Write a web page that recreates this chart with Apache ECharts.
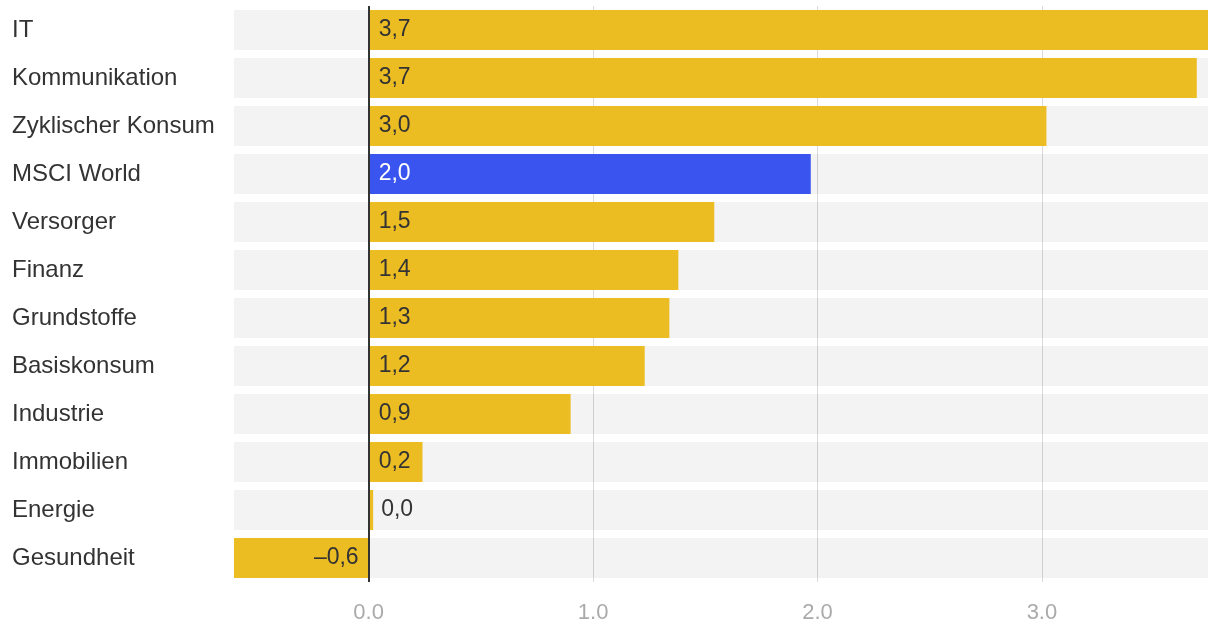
<!DOCTYPE html>
<html><head><meta charset="utf-8">
<script src="https://cdn.jsdelivr.net/npm/echarts@6/dist/echarts.min.js"></script>
<style>html,body{margin:0;padding:0;background:#fff}#c{width:1220px;height:620px}</style>
</head><body><div id="c"></div>
<script>
const categories = ['IT','Kommunikation','Zyklischer Konsum','MSCI World','Versorger','Finanz','Grundstoffe','Basiskonsum','Industrie','Immobilien','Energie','Gesundheit'];
const values = [3.74, 3.69, 3.02, 1.97, 1.54, 1.38, 1.34, 1.23, 0.90, 0.24, 0.02, -0.60];
const highlight = 'MSCI World';
const xTicks = [0, 1, 2, 3];
const xGrid = [1, 2, 3];

const FONT = '"Liberation Sans", Arial, Helvetica, sans-serif';
const YELLOW = '#ebbd23', BLUE = '#3a55ef';
function fmt(v){ const s = Math.abs(v).toFixed(1).replace('.', ','); return v < 0 ? '\u2013' + s : s; }

const data = values.map((v, i) => {
  const hi = categories[i] === highlight;
  const small = v >= 0 && v < 0.1;
  return {
    value: v,
    itemStyle: { color: hi ? BLUE : YELLOW },
    label: {
      position: v < 0 ? 'insideRight' : (small ? 'right' : 'insideLeft'),
      color: hi ? '#fff' : '#333',
      distance: small ? 8 : 10
    }
  };
});

const chart = echarts.init(document.getElementById('c'));
chart.setOption({
  animation: false,
  grid: { left: 234, right: 12, top: 6, bottom: 38, containLabel: false, outerBoundsMode: 'none' },
  xAxis: {
    type: 'value', min: -0.6, max: 3.74,
    axisLine: { show: false },
    axisTick: { show: false, customValues: xGrid },
    splitLine: { show: true, customValues: xGrid, lineStyle: { color: '#dadada', width: 1 } },
    axisLabel: {
      fontFamily: FONT, fontSize: 22, color: '#aaa', margin: 20,
      customValues: xTicks,
      formatter: v => Number(v).toFixed(1)
    }
  },
  yAxis: {
    type: 'category', data: categories, inverse: true,
    axisLine: { show: false }, axisTick: { show: false },
    axisLabel: { fontFamily: FONT, fontSize: 24, color: '#333', align: 'left', margin: 222 }
  },
  series: [{
    type: 'bar', data: data, barWidth: 40,
    showBackground: true,
    backgroundStyle: { color: 'rgba(0,0,0,0.047)' },
    label: { show: true, fontFamily: FONT, fontSize: 23, formatter: p => fmt(p.value) },
    markLine: {
      silent: true, symbol: 'none', z: 10,
      label: { show: false },
      lineStyle: { color: '#333', width: 2, type: 'solid' },
      data: [{ xAxis: 0 }]
    }
  }]
});
</script></body></html>
